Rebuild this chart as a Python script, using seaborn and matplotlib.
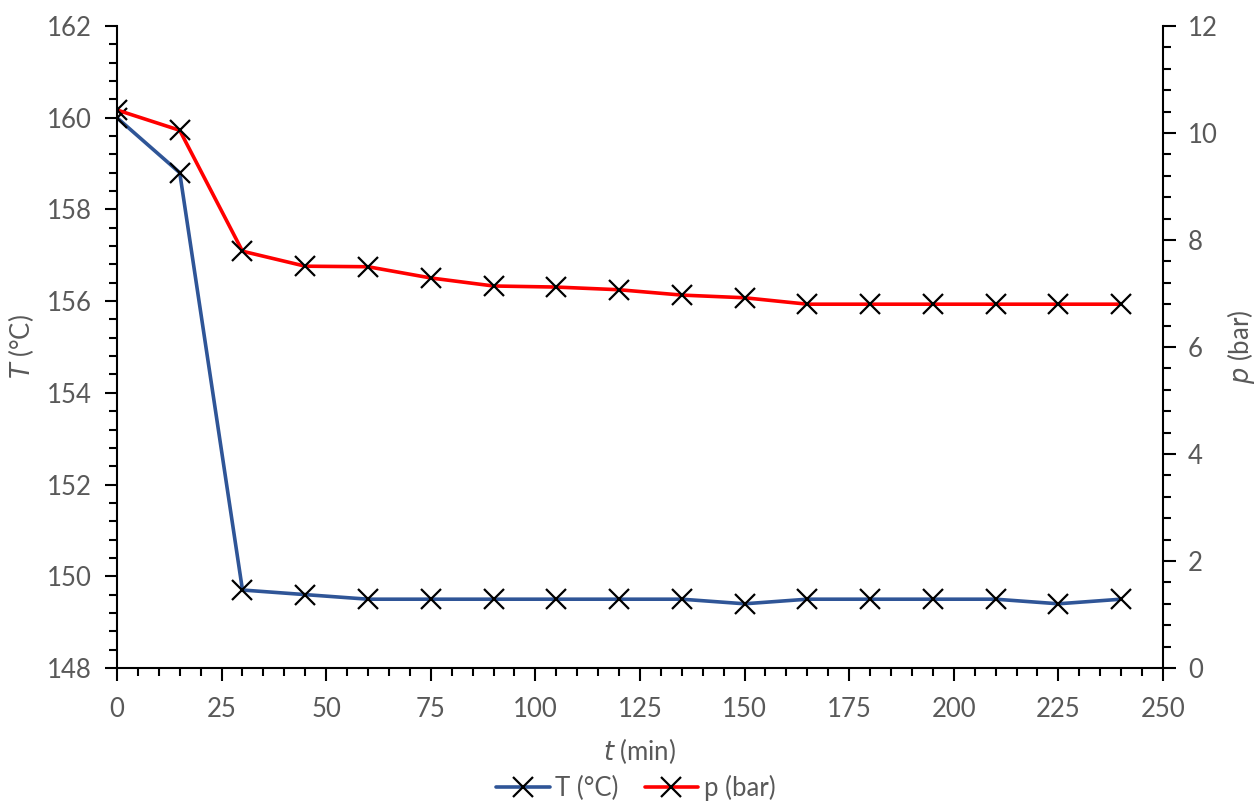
import matplotlib
matplotlib.use("Agg")
import matplotlib.pyplot as plt
from matplotlib.ticker import MultipleLocator
from matplotlib.lines import Line2D
import seaborn as sns
import pandas as pd

# Sampling times (min)
time_min = [0, 15, 30, 45, 60, 75, 90, 105, 120, 135, 150, 165, 180, 195, 210, 225, 240]
# Temperature (°C)
temperature_c = [160.0, 158.8, 149.7, 149.6, 149.5, 149.5, 149.5, 149.5, 149.5, 149.5,
                 149.4, 149.5, 149.5, 149.5, 149.5, 149.4, 149.5]
# Pressure (bar)
pressure_bar = [10.43, 10.05, 7.79, 7.51, 7.50, 7.29, 7.14, 7.12, 7.07, 6.97,
                6.92, 6.80, 6.80, 6.80, 6.80, 6.80, 6.80]

df = pd.DataFrame({"t": time_min, "T": temperature_c, "p": pressure_bar})

sns.set_theme(style="white")
plt.rcParams["font.family"] = ["Lato", "DejaVu Sans"]

TXT = "#595959"
BLUE = "#2F5597"
RED = "#FF0000"
FS = 18.5

fig = plt.figure(figsize=(12.59, 8.02), dpi=100)
ax = fig.add_axes([0.0929, 0.1671, 0.8308, 0.8005])
ax2 = ax.twinx()

line_kw = dict(linewidth=2.6, marker="x", markersize=15, markeredgewidth=1.6,
               markeredgecolor="black", markerfacecolor="black")
sns.lineplot(data=df, x="t", y="T", ax=ax, color=BLUE, **line_kw)
sns.lineplot(data=df, x="t", y="p", ax=ax2, color=RED, **line_kw)

ax.set_xlim(0, 250)
ax.set_ylim(148, 162)
ax2.set_ylim(0, 12)

ax.xaxis.set_major_locator(MultipleLocator(25))
ax.xaxis.set_minor_locator(MultipleLocator(5))
ax.yaxis.set_major_locator(MultipleLocator(2))
ax.yaxis.set_minor_locator(MultipleLocator(0.4))
ax2.yaxis.set_major_locator(MultipleLocator(2))
ax2.yaxis.set_minor_locator(MultipleLocator(0.4))

for a in (ax, ax2):
    a.spines["top"].set_visible(False)
    for s in ("left", "right", "bottom"):
        a.spines[s].set_color("black")
        a.spines[s].set_linewidth(1.5)
    a.tick_params(which="major", direction="out", length=9, width=1.5,
                  color="black", labelcolor=TXT, labelsize=FS)
    a.tick_params(which="minor", direction="out", length=6, width=1.5, color="black")
ax.tick_params(axis="x", which="major", pad=12)
ax.tick_params(axis="y", which="major", pad=9)
ax2.tick_params(axis="y", which="major", pad=9)
ax.spines["right"].set_visible(False)
ax2.spines["left"].set_visible(False)
ax2.spines["bottom"].set_visible(False)
ax.tick_params(axis="x", which="both", bottom=True)
ax.tick_params(axis="y", which="both", left=True)
ax2.tick_params(axis="y", which="both", right=True)
ax.grid(False)
ax2.grid(False)

ax.set_xlabel("$\\mathit{t}$ (min)", color=TXT, fontsize=FS, labelpad=10)
ax.set_ylabel("$\\mathit{T}$ (°C)", color=TXT, fontsize=FS, labelpad=8)
ax2.set_ylabel("$\\mathit{p}$ (bar)", color=TXT, fontsize=FS, labelpad=5)

handles = [
    Line2D([], [], color=BLUE, **line_kw),
    Line2D([], [], color=RED, **line_kw),
]
fig.legend(handles, ["T (°C)", "p (bar)"], loc="lower center", ncol=2,
           bbox_to_anchor=(0.505, -0.028), frameon=False, fontsize=FS,
           labelcolor=TXT, handlelength=2.1, handletextpad=0.2, columnspacing=1.0)

fig.savefig("out.png", dpi=100)
